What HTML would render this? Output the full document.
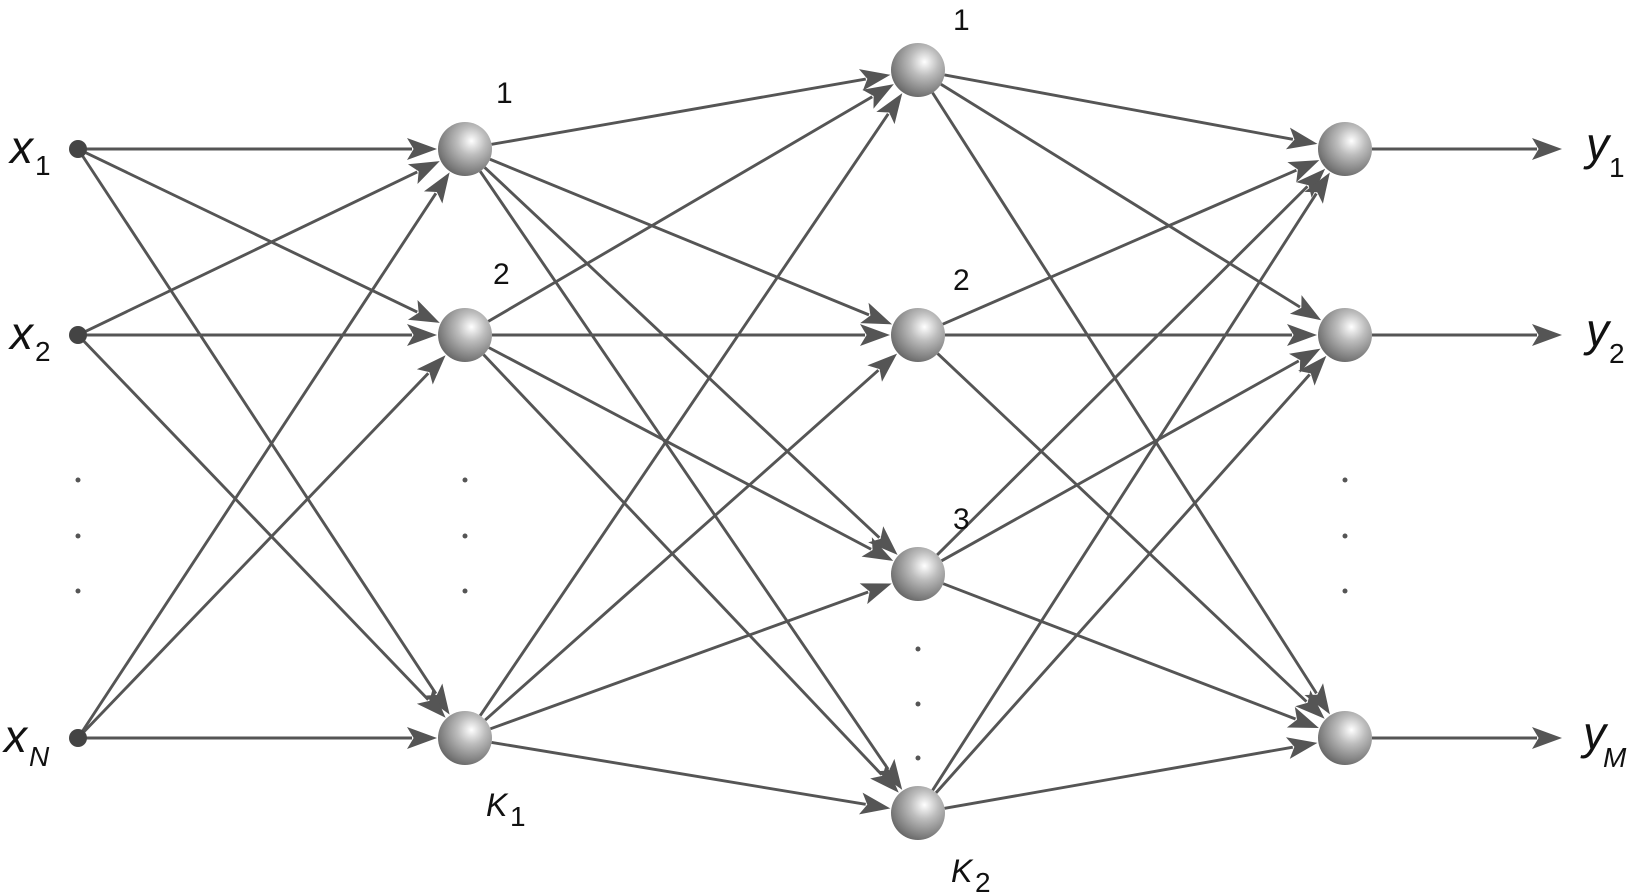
<!DOCTYPE html>
<html><head><meta charset="utf-8"><style>
html,body{margin:0;padding:0;background:#fff;width:1628px;height:893px;overflow:hidden}
svg{display:block}
text{font-family:"Liberation Sans",Arial,sans-serif;fill:#111}
</style></head><body>
<svg id="s" width="1628" height="893" viewBox="0 0 1628 893" xmlns="http://www.w3.org/2000/svg">
<defs>
<radialGradient id="g" cx="0.62" cy="0.35" r="0.75">
<stop offset="0" stop-color="#ffffff"/>
<stop offset="0.35" stop-color="#bdbdbd"/>
<stop offset="0.8" stop-color="#7a7a7a"/>
<stop offset="1" stop-color="#5a5a5a"/>
</radialGradient>
</defs>
<g id="lines"></g>
<g id="nodes"></g>
<text x="10" y="163" font-size="46" font-style="italic">x</text><text x="35" y="175" font-size="28">1</text>
<text x="10" y="349" font-size="46" font-style="italic">x</text><text x="35" y="361" font-size="28">2</text>
<text x="4" y="752" font-size="46" font-style="italic">x</text><text x="29" y="766" font-size="28" font-style="italic">N</text>
<text x="1586" y="160" font-size="46" font-style="italic">y</text><text x="1609" y="177" font-size="28">1</text>
<text x="1586" y="346" font-size="46" font-style="italic">y</text><text x="1609" y="363" font-size="28">2</text>
<text x="1583" y="749" font-size="46" font-style="italic">y</text><text x="1603" y="767" font-size="28" font-style="italic">M</text>
<text x="496" y="103" font-size="30">1</text>
<text x="493" y="284" font-size="30">2</text>
<text x="953" y="30" font-size="30">1</text>
<text x="953" y="290" font-size="30">2</text>
<text x="953" y="529" font-size="30">3</text>
<text x="486" y="816" font-size="32" font-style="italic">K</text><text x="510" y="826" font-size="28">1</text>
<text x="951" y="882" font-size="32" font-style="italic">K</text><text x="975" y="892" font-size="28">2</text>
<g fill="#555">
<circle cx="78" cy="480" r="2.5"/><circle cx="78" cy="536" r="2.5"/><circle cx="78" cy="591" r="2.5"/>
<circle cx="465" cy="480" r="2.5"/><circle cx="465" cy="536" r="2.5"/><circle cx="465" cy="591" r="2.5"/>
<circle cx="1345" cy="480" r="2.5"/><circle cx="1345" cy="536" r="2.5"/><circle cx="1345" cy="591" r="2.5"/>
<circle cx="918" cy="649" r="2.5"/><circle cx="918" cy="704" r="2.5"/><circle cx="918" cy="758" r="2.5"/>
</g>
</svg>
<script>
var NS="http://www.w3.org/2000/svg";
var inp=[[78,149],[78,335],[78,738]];
var l1=[[465,149],[465,335],[465,738]];
var l2=[[918,70],[918,335],[918,574],[918,813]];
var out=[[1345,149],[1345,335],[1345,738]];
var R=27,lg=document.getElementById('lines'),ng=document.getElementById('nodes');
function arrow(a,b,r0,r1){
 var dx=b[0]-a[0],dy=b[1]-a[1],L=Math.hypot(dx,dy),ux=dx/L,uy=dy/L;
 var sx=a[0]+ux*r0,sy=a[1]+uy*r0,tx=b[0]-ux*r1,ty=b[1]-uy*r1;
 var hl=30,hw=11,bx=tx-ux*hl,by=ty-uy*hl;
 var l=document.createElementNS(NS,'line');
 l.setAttribute('x1',sx);l.setAttribute('y1',sy);l.setAttribute('x2',bx+ux*5);l.setAttribute('y2',by+uy*5);
 l.setAttribute('stroke','#555');l.setAttribute('stroke-width','2.9');lg.appendChild(l);
 var p=document.createElementNS(NS,'polygon');
 var nx=-uy,ny=ux,ix=tx-ux*hl*0.78,iy=ty-uy*hl*0.78;
 p.setAttribute('points',tx+','+ty+' '+(bx+nx*hw)+','+(by+ny*hw)+' '+ix+','+iy+' '+(bx-nx*hw)+','+(by-ny*hw));
 p.setAttribute('fill','#555');lg.appendChild(p);
}
inp.forEach(function(a){l1.forEach(function(b){arrow(a,b,6,R+1);});});
l1.forEach(function(a){l2.forEach(function(b){arrow(a,b,R,R+1);});});
l2.forEach(function(a){out.forEach(function(b){arrow(a,b,R,R+1);});});
out.forEach(function(a){arrow(a,[1562,a[1]],R,0);});
inp.forEach(function(a){var c=document.createElementNS(NS,'circle');c.setAttribute('cx',a[0]);c.setAttribute('cy',a[1]);c.setAttribute('r',9);c.setAttribute('fill','#444');ng.appendChild(c);});
[l1,l2,out].forEach(function(L){L.forEach(function(a){var c=document.createElementNS(NS,'circle');c.setAttribute('cx',a[0]);c.setAttribute('cy',a[1]);c.setAttribute('r',R);c.setAttribute('fill','url(#g)');ng.appendChild(c);});});
</script>
</body></html>
